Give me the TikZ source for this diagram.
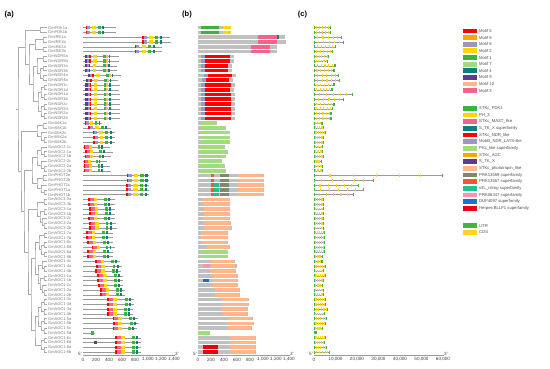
\documentclass[tikz,border=0pt]{standalone}
\usepackage{fontspec}
\setmainfont{Liberation Sans}
\usetikzlibrary{calc}
\definecolor{cRed}{HTML}{FF0000}
\definecolor{cOrange}{HTML}{FFA500}
\definecolor{cLav}{HTML}{9E96BE}
\definecolor{cGold}{HTML}{FFD700}
\definecolor{cGreen}{HTML}{3DB33D}
\definecolor{cLGreen}{HTML}{A0DC7E}
\definecolor{cTeal}{HTML}{0F7F78}
\definecolor{cPurple}{HTML}{5F3B8C}
\definecolor{cPeach}{HTML}{FFB68A}
\definecolor{cPink}{HTML}{F4638C}
\definecolor{cOlive}{HTML}{7D8A6E}
\definecolor{cOrRed}{HTML}{EE5A2E}
\definecolor{cNifL}{HTML}{22C08E}
\definecolor{cLPink}{HTML}{FF92AE}
\definecolor{cBlue}{HTML}{1F6FD0}
\definecolor{cHerp}{HTML}{E60012}
\definecolor{cUTR}{HTML}{44B53A}
\definecolor{cCDS}{HTML}{FFD22A}
\definecolor{cBar}{HTML}{C0C0C0}
\definecolor{cLine}{HTML}{9A9A9A}
\definecolor{cTree}{HTML}{AAAAAA}
\definecolor{cTxt}{HTML}{7A7A7A}
\newcommand\mA[3]{\fill[#3] ({83+#1},{\yy-1.6}) rectangle ({83+#2},{\yy+1.6});}
\newcommand\dB[3]{\fill[#3] ({198+#1},{\yy-1.8}) rectangle ({198+#2},{\yy+1.8});}
\newcommand\patP{\mA{\ss}{\ss+.09*\kk}{cRed}\mA{\ss+.09*\kk}{\ss+.24*\kk}{cLav}\mA{\ss+.35*\kk}{\ss+.55*\kk}{cGold}\mA{\ss+.65*\kk}{\ss+.81*\kk}{cGreen}\mA{\ss+.9*\kk}{\ss+\kk}{cTeal}}
\newcommand\patK{\mA{\ss}{\ss+.07*\kk}{cRed}\mA{\ss+.07*\kk}{\ss+.22*\kk}{cPink}\mA{\ss+.22*\kk}{\ss+.37*\kk}{cGold}\mA{\ss+.65*\kk}{\ss+.76*\kk}{cGreen}\mA{\ss+.81*\kk}{\ss+.89*\kk}{cTeal}}
\newcommand\patN{\mA{\ss}{\ss+2.3}{cPurple}\mA{\ss+2.3}{\ss+4.3}{cLav}\mA{\ss+4.3}{\ss+5.7}{cRed}\mA{\ss+8.3}{\ss+11.7}{cGold}\mA{\ss+18.3}{\ss+21}{cGreen}\mA{\ss+21}{\ss+23}{cPeach}\mA{\ss+23.5}{\ss+25.3}{cTeal}}
\expandafter\def\csname rtpdk\endcsname{\patP\dB{3}{21.3}{cGreen}\dB{25.3}{\ll}{cGold}}
\expandafter\def\csname rtire\endcsname{\patP\dB{\ss+1.3}{\ss+20.3}{cPink}}
\expandafter\def\csname rtireA\endcsname{\patP\dB{\ss+1.3}{\ss+20.3}{cPink}\dB{\ss+20.3}{\ss+22.5}{cTeal}}
\expandafter\def\csname rtndr\endcsname{\patN\dB{\ss+1}{\ss+5}{cLav}\dB{\ss+5}{\ll-4}{cRed}}
\expandafter\def\csname rtsk\endcsname{\patP\dB{3}{\ll-1}{cLGreen}}
\expandafter\def\csname rtagcB\endcsname{\patK\dB{1.5}{\ll-1}{cLGreen}}
\expandafter\def\csname rtphotB\endcsname{\patP\dB{13}{16}{cOrRed}\dB{22}{31}{cOlive}\dB{40}{\ll-1}{cPeach}}
\expandafter\def\csname rtphotA\endcsname{\patP\dB{13}{16}{cOrRed}\dB{16}{21}{cNifL}\dB{22}{31}{cOlive}\dB{40}{\ll-1}{cPeach}}
\expandafter\def\csname rtagc\endcsname{\patK\dB{\ss}{\ll-1.5}{cPeach}}
\expandafter\def\csname rtagcpk\endcsname{\patK\dB{3}{\ll}{cLGreen}}
\expandafter\def\csname rtagcpi\endcsname{\patK\dB{4.7}{12}{cLPink}\dB{\ss}{\ll-1.5}{cPeach}}
\expandafter\def\csname rtagcdu\endcsname{\patK\dB{4.7}{11.3}{cBlue}\dB{\ss}{\ll-1.5}{cPeach}}
\expandafter\def\csname rtagcpu\endcsname{\patK\mA{11}{13.7}{cPurple}\dB{\ss}{\ll-1.5}{cPeach}}
\expandafter\def\csname rtagch\endcsname{\patK\dB{4.7}{19.5}{cHerp}\dB{\ss}{\ll-1.5}{cPeach}}
\expandafter\def\csname rtpkd\endcsname{\mA{7.7}{11}{cGreen}\dB{0}{\ll}{cLGreen}}
\newcommand\geneC{\draw[cLine,line width=0.4pt] (314,\yy) -- ({314+\cc},\yy);
 \foreach \f in {0.12,0.3,0.48,0.66,0.82}{\fill[cCDS] ({314+\f*\cc},{\yy-1.4}) rectangle ({314+\f*\cc+1.1},{\yy+1.4});}
 \fill[cUTR] (314,{\yy-1.5}) rectangle (315.2,{\yy+1.5});
 \fill[cUTR] ({314+\cc-1.4},{\yy-1.5}) rectangle ({314+\cc},{\yy+1.5});}
\newcommand\tj[4]{\path ($(#3)!0.5!(#4)$) coordinate (#1m); \coordinate (#1) at (#1m -| #2,0); \draw[tline] (#3) -| (#1) |- (#4);}
\begin{document}
\begin{tikzpicture}[x=1pt,y=-1pt,
  tline/.style={cTree,line width=0.45pt},
  lbl/.style={anchor=west,inner sep=0pt,text=cTxt,font=\fontsize{4}{4}\selectfont},
  axl/.style={cLine,line width=0.4pt},
  axt/.style={inner sep=0pt,text=black!75,font=\fontsize{4.6}{5}\selectfont},
  pnl/.style={inner sep=0pt,font=\fontsize{7.5}{8}\selectfont\bfseries},
  legsq/.style={minimum width=13.3pt,minimum height=4.8pt,inner sep=0pt,draw=none},
  legtx/.style={anchor=west,inner sep=0pt,text=black!70,font=\fontsize{4.2}{5}\selectfont}]
\useasboundingbox (0,0) rectangle (550,369);
\node[pnl] (pa) at (9.2,15) {(a)};
\node[pnl] (pb) at (187,15) {(b)};
\node[pnl] (pc) at (302.5,15) {(c)};
\foreach \rr/\nm/\ll/\ss/\kk/\tp/\cc in {
1/PDK1a/33/2.7/18.6/pdk/17,2/PDK1b/33/2.7/18.6/pdk/17,
3/IRE1a/87/58.7/20/ireA/28.3,4/IRE1b/87.7/58.7/20/ire/30.3,5/IRE2a/79.3/51.5/20/ire/22,6/IRE2b/79.3/51.5/20/ire/19.3,
7/NDR5a/36/2/25/ndr/15.3,8/NDR5b/36/2/25/ndr/14.3,9/NDR3a/33.7/1.5/25/ndr/21.7,10/NDR3b/33.7/1.5/25/ndr/20.7,
11/NDR4a/38/5/25/ndr/25,12/NDR4b/35.3/3/25/ndr/26,13/NDR1c/37/2.3/25/ndr/20.7,14/NDR1d/36/2.3/25/ndr/18.7,
15/NDR1a/37/2.3/25/ndr/39.3,16/NDR1b/37/2.3/25/ndr/30,17/NDR2c/37/2.3/25/ndr/20.7,18/NDR2d/37/2.3/25/ndr/19.3,
19/NDR2a/37/2.3/25/ndr/17.7,20/NDR2b/37/2.3/25/ndr/17.7,
21/S6K1a/19/2/15/sk/8.7,22/S6K1b/27.7/5.3/19/sk/10,23/S6K2c/32/9.7/19/sk/12,24/S6K2a/32/10/19/sk/10,25/S6K2b/32/10/19/sk/10,
26/AGC2-1c/27/1/21/agcB/9,27/AGC2-1a/30/2/22/agcB/9,28/AGC2-1b/28/2/21/agcB/10,29/AGC2-2c/23.7/0.5/19/agcB/8,
30/AGC2-2a/27/1/21/agcB/9,31/AGC2-2b/28/1/21/agcB/9,
32/PHOT2a/66/43.5/21/photB/129,33/PHOT2b/66/43.5/21/photB/60,34/PHOT1c/66/43/21/photA/45,35/PHOT1a/66/43/21/photA/50,36/PHOT1b/66/43/21/photA/40,
37/AGC3-3a/32/5.3/24/agc/10,38/AGC3-3b/32/5.3/24/agc/10,39/AGC3-1a/32/6.3/24/agc/10,40/AGC3-1b/32/6.3/24/agc/10,
41/AGC3-2c/32/5.3/24/agc/10,42/AGC3-2a/33/6.3/25/agc/10,43/AGC3-2b/33.7/6.3/25/agc/10,
44/AGC1-7a/30.3/3/25/agc/11,45/AGC1-7b/30.3/3/25/agc/11,46/AGC1-8c/30.3/4.3/24/agc/11,47/AGC1-8d/32/8.7/22/agc/11,
48/AGC1-8a/30/4.3/24/agcpk/11,49/AGC1-8b/30/4.3/24/agcpk/9.3,
50/AGC1-4c/37/12/25/agc/8.7,51/AGC1-4a/38.7/12.7/26/agcpi/12,52/AGC1-4b/38/12/26/agc/10,
53/AGC1-1a/40.3/13.7/26.6/agc/12,54/AGC1-1b/40.3/13.7/26.6/agcdu/10,55/AGC1-2c/40/15.3/24.7/agc/9.3,
56/AGC1-2a/42/17/25/agc/10,57/AGC1-2b/42/17/25/agc/10,
58/AGC1-3c/51.3/24.3/27/agc/12,59/AGC1-3d/51.3/24.3/27/agc/12,60/AGC1-3a/50.3/24.3/26/agc/14.3,61/AGC1-3b/50.3/24.3/26/agc/11,
62/AGC1-5a/55.3/29.7/25.6/agc/13.3,63/AGC1-5b/56/29.7/26.3/agc/12,64/AGC1-5c/54/29.7/24.3/agc/9.3,65/AGC1-5d/12/0/12/pkd/2.7,
66/AGC1-6c/58/32/26/agc/12,67/AGC1-6d/58/32/26/agcpu/11,68/AGC1-6a/58/32/26/agch/13.3,69/AGC1-6b/58/32/26/agch/16}{
  \pgfmathsetmacro\yy{27.7+(\rr-1)*4.77}
  \node[lbl] (g\rr) at (48,\yy) {Gm\nm};
  \coordinate (L\rr) at (46.5,\yy);
  \draw[cLine,line width=0.4pt] (83,\yy) -- ({83+\ll},\yy);
  \fill[cBar] (198,{\yy-1.8}) rectangle ({198+\ll},{\yy+1.8});
  \csname rt\tp\endcsname
  \geneC
}
% tree
\tj{p1}{40}{L1}{L2}
\tj{i1}{43}{L3}{L4}
\tj{i2}{43}{L5}{L6}
\tj{ii}{35}{i1}{i2}
\tj{n1}{43}{L7}{L8}
\tj{n2}{43}{L9}{L10}
\tj{n3}{43}{L11}{L12}
\tj{n4}{44}{L13}{L14}
\tj{n5}{44}{L15}{L16}
\tj{n6}{44}{L17}{L18}
\tj{n7}{44}{L19}{L20}
\tj{n45}{41}{n4}{n5}
\tj{n67}{41}{n6}{n7}
\tj{n4567}{38}{n45}{n67}
\tj{n23}{40}{n2}{n3}
\tj{n123}{37}{n1}{n23}
\tj{nd}{33}{n123}{n4567}
\tj{ind}{29}{ii}{nd}
\tj{A}{25}{p1}{ind}
\tj{s1}{43}{L21}{L22}
\tj{s2}{44}{L24}{L25}
\tj{s23}{41}{L23}{s2}
\tj{sx}{37}{s1}{s23}
\tj{g1}{44}{L27}{L28}
\tj{g1b}{41}{L26}{g1}
\tj{g2}{44}{L30}{L31}
\tj{g2b}{41}{L29}{g2}
\tj{gx}{37}{g1b}{g2b}
\tj{ph2}{43}{L32}{L33}
\tj{ph1}{44}{L35}{L36}
\tj{ph1b}{41}{L34}{ph1}
\tj{ph}{37}{ph2}{ph1b}
\tj{gph}{32}{gx}{ph}
\tj{a1}{44}{L37}{L38}
\tj{a2}{44}{L39}{L40}
\tj{a3}{44}{L42}{L43}
\tj{a3b}{42}{L41}{a3}
\tj{a23}{40}{a2}{a3b}
\tj{a123}{37}{a1}{a23}
\tj{b1}{44}{L44}{L45}
\tj{b2}{44}{L46}{L47}
\tj{b3}{44}{L48}{L49}
\tj{b23}{41}{b2}{b3}
\tj{bb}{39}{b1}{b23}
\tj{c1}{44}{L51}{L52}
\tj{c1b}{42}{L50}{c1}
\tj{c2}{44}{L53}{L54}
\tj{c3}{44}{L56}{L57}
\tj{c3b}{42}{L55}{c3}
\tj{c23}{40}{c2}{c3b}
\tj{cx}{38}{c1b}{c23}
\tj{bc}{35}{bb}{cx}
\tj{d1}{44}{L58}{L59}
\tj{d2}{44}{L60}{L61}
\tj{dd}{41}{d1}{d2}
\tj{e1}{44}{L62}{L63}
\tj{e2}{44}{L64}{L65}
\tj{ee}{41}{e1}{e2}
\tj{f1}{44}{L66}{L67}
\tj{f2}{44}{L68}{L69}
\tj{ff}{41}{f1}{f2}
\tj{de}{38}{dd}{ee}
\tj{def}{35}{de}{ff}
\tj{bcdef}{31}{bc}{def}
\tj{agcone}{28}{a123}{bcdef}
\tj{B2}{24}{gph}{agcone}
\tj{B}{21}{sx}{B2}
\tj{root}{18}{A}{B}
\coordinate (rootstub) at ($(root)+(-2,0)$);
\draw[tline] (root) -- (rootstub);
% axes
\draw[axl] (83,355) -- (174,355);
\draw[axl] (198,355) -- (289,355);
\draw[axl] (314,355) -- (443,355);
\foreach \i/\lab in {0/0,1/200,2/400,3/600,4/800,5/{1,000},6/{1,200},7/{1,400}}{
  \draw[axl] ({83+13*\i},355) -- ({83+13*\i},356.3);
  \node[axt] (axa\i) at ({83+13*\i},359.5) {\lab};
  \draw[axl] ({198+13*\i},355) -- ({198+13*\i},356.3);
  \node[axt] (axb\i) at ({198+13*\i},359.5) {\lab};}
\foreach \i/\lab in {0/0,1/{10,000},2/{20,000},3/{30,000},4/{40,000},5/{50,000},6/{60,000}}{
  \draw[axl] ({314+21.5*\i},355) -- ({314+21.5*\i},356.3);
  \node[axt] (axc\i) at ({314+21.5*\i},359.5) {\lab};}
\node[axt] (a5) at (80,354) {5'};
\node[axt] (a3) at (177,354) {3'};
\node[axt] (b5) at (195,354) {5'};
\node[axt] (b3) at (292,354) {3'};
\node[axt] (c5) at (311,354) {5'};
\node[axt] (c3) at (446,354) {3'};
% legend
\foreach \i/\col/\txt in {1/cRed/Motif 5,2/cOrange/Motif 8,3/cLav/Motif 6,4/cGold/Motif 2,5/cGreen/Motif 1,6/cLGreen/Motif 7,7/cTeal/Motif 4,8/cPurple/Motif 9,9/cPeach/Motif 10,10/cPink/Motif 3}{
  \node[legsq,fill=\col] (lm\i) at (470,{31+(\i-1)*6.63}) {};
  \node[legtx] (lmt\i) at (479,{31+(\i-1)*6.63}) {\txt};}
\foreach \i/\col/\txt in {1/cGreen/STKc\_PDK1,2/cGold/PH\_3,3/cPink/STKc\_MAST\_like,4/cTeal/S\_TK\_X superfamily,5/cRed/STKc\_NDR\_like,6/cLav/MobB\_NDR\_LATS-like,7/cLGreen/PKc\_like superfamily,8/cOrange/STKc\_AGC,9/cPurple/S\_TK\_X,10/cPeach/STKc\_phototropin\_like,11/cOlive/PRK13559 superfamily,12/cOrRed/PRK13557 superfamily,13/cNifL/nifL\_nitrog superfamily,14/cLPink/PRK06347 superfamily,15/cBlue/DUF4097 superfamily,16/cHerp/Herpes BLLF1 superfamily}{
  \node[legsq,fill=\col] (ld\i) at (470,{108.3+(\i-1)*6.67}) {};
  \node[legtx] (ldt\i) at (479,{108.3+(\i-1)*6.67}) {\txt};}
\node[legsq,fill=cUTR] (lu) at (470,225.7) {};
\node[legtx] (lut) at (479,225.7) {UTR};
\node[legsq,fill=cCDS] (lc) at (470,232.3) {};
\node[legtx] (lct) at (479,232.3) {CDS};
\end{tikzpicture}
\end{document}
